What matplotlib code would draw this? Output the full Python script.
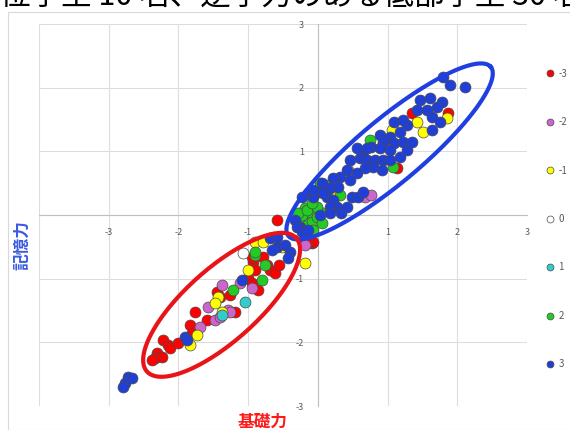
import matplotlib
matplotlib.use('Agg')
import matplotlib.pyplot as plt
from matplotlib.lines import Line2D
from matplotlib.patches import Rectangle
import numpy as np

plt.rcParams['font.family'] = ['Noto Sans CJK JP', 'DejaVu Sans']

# data (x = 基礎力, y = 記憶力), one pair of arrays per group
m3_x = [-2.22, -2.15, -2.30, -2.24, -2.34, -2.38, -2.12, -2.01, -1.84, -1.81, -1.76, -1.59, -1.45, -1.41,
        -1.00, -0.95, -0.93, -0.73, -0.69, -0.62, -0.86, -1.26, -1.19, -0.95, -0.79, -0.55, -0.19, -0.09,
        -0.59, -0.07, -0.14, 1.35, 1.87, 1.13, -0.90]
m3_y = [-1.96, -2.04, -2.17, -2.23, -2.24, -2.28, -2.09, -2.01, -1.73, -1.85, -1.52, -1.65, -1.21, -1.29,
        -0.99, -1.07, -0.74, -0.78, -0.86, -0.91, -1.18, -1.26, -1.52, -0.66, -0.66, -0.78, -0.39, -0.44,
        -0.08, -0.42, -0.44, 1.60, 1.60, 0.74, -0.86]

m2_x = [-1.38, -1.58, -1.69, -1.48, -1.41, -1.29, -0.95, -1.12, -1.26, 0.67, 0.77, -0.19]
m2_y = [-1.10, -1.44, -1.76, -1.65, -1.60, -1.49, -1.15, -1.07, -1.52, 0.28, 0.31, -0.47]

m1_x = [-0.90, -0.79, -1.00, -1.43, -1.48, -1.74, -1.84, -0.19, -0.01, 1.06, 1.42, 1.51, 1.85, 0.27,
        -0.52, -1.38]
m1_y = [-0.42, -0.42, -0.86, -1.29, -1.38, -1.88, -2.04, -0.75, 0.08, 1.33, 1.46, 1.30, 1.52, 0.31,
        -0.50, -1.52]

z0_x = [-1.08, 0.43, -0.14]
z0_y = [-0.60, 0.71, 0.17]

p1_x = [-1.05, -1.38, -0.26]
p1_y = [-1.37, -1.57, 0.03]

p2_x = [0.75, 1.08, 0.03, 0.14, -0.07, 0.03, -0.04, -0.11, -0.19, -0.14, -0.26, -0.09, -0.01, 0.06,
        -0.07, -0.22, -0.29, -0.16, -0.01, -0.09, -0.90, -1.22, -0.80, -0.76, -0.90, 0.32]
p2_y = [1.18, 0.75, 0.50, 0.47, 0.13, 0.05, -0.08, 0.03, 0.11, -0.13, -0.03, -0.11, -0.03, -0.13,
        -0.24, 0.00, 0.03, 0.08, 0.13, 0.19, -0.63, -1.18, -1.02, -0.78, -0.58, 0.31]

p3_x = [1.79, 1.89, 2.11, 1.46, 1.61, 1.78, 1.71, 1.56, 1.42, 1.64, 1.75, 1.64, 1.10, 1.28, 1.18, 1.03,
        0.89, 0.93, 1.10, 1.22, 1.28, 1.18, 1.03, 0.89, 0.77, 0.65, 0.60, 0.70, 0.82, 0.93, 1.03, 0.92,
        0.79, 0.67, 0.46, 0.42, 0.56, 0.46, 0.32, 0.22, 0.29, 0.17, 0.06, 0.00, -0.14, -0.22, -0.07,
        0.13, 0.22, 0.27, 0.34, 0.17, 0.49, 0.42, 0.57, 0.65, 0.17, -0.33, -0.26, 0.03, 0.70, 0.56,
        1.22, 1.35, -0.30, -0.23, -0.14, -0.07, 0.07, -0.69, -0.59, -0.47, -0.40, -0.65, -0.43, -0.59,
        -1.09, -1.91, -1.87, -2.73, -2.67, -2.77, -2.80]
p3_y = [2.17, 2.04, 2.01, 1.81, 1.84, 1.77, 1.70, 1.65, 1.65, 1.54, 1.46, 1.33, 1.46, 1.41, 1.30, 1.22,
        1.26, 1.15, 1.13, 1.15, 1.02, 0.91, 1.02, 1.05, 1.07, 0.99, 0.89, 0.86, 0.86, 0.86, 0.86, 0.71,
        0.75, 0.74, 0.86, 0.71, 0.66, 0.55, 0.60, 0.58, 0.44, 0.42, 0.50, 0.36, 0.35, 0.28, 0.28,
        0.28, 0.24, 0.13, 0.03, 0.13, 0.28, 0.13, 0.28, 0.36, 0.03, -0.08, -0.19, 0.00, 1.05, 1.05,
        1.49, 1.15, -0.19, -0.27, -0.24, 0.39, 0.35, -0.36, -0.50, -0.47, -0.58, -0.55, -0.68, -0.35,
        -1.02, -1.92, -1.96, -2.54, -2.56, -2.64, -2.70]

groups = ['-3', '-2', '-1', '0', '1', '2', '3']
xs = [m3_x, m2_x, m1_x, z0_x, p1_x, p2_x, p3_x]
ys = [m3_y, m2_y, m1_y, z0_y, p1_y, p2_y, p3_y]
colors = ['#ff0000', '#cc66cc', '#ffff00', '#ffffff', '#33cccc', '#22cc22', '#1f3fd6']

x_ticks = [-4, -3, -2, -1, 0, 1, 2, 3]
x_ticklabels = ['', '-3', '-2', '-1', '', '1', '2', '3']
y_ticks = [-3, -2, -1, 0, 1, 2, 3]
y_ticklabels = ['-3', '-2', '-1', '', '1', '2', '3']

fig = plt.figure(figsize=(5.7, 4.3), dpi=100)
ax = fig.add_axes([0.0684, 0.0558, 0.856, 0.888])

for gx, gy, c in zip(xs, ys, colors):
    ax.scatter(gx, gy, s=62, c=c, edgecolors='#4a4a4a', linewidths=0.5, zorder=3)

# the two hand-drawn ellipses
t = np.linspace(0, 2 * np.pi, 200)
for cx, cy, ux, uy, vx, vy, col in [(1.03, 1.00, 1.45, 1.33, 0.30, -0.38, '#1f3fe0'),
                                     (-1.38, -1.41, 1.07, 1.05, 0.35, -0.42, '#e81418')]:
    ax.plot(cx + ux * np.cos(t) + vx * np.sin(t), cy + uy * np.cos(t) + vy * np.sin(t),
            color=col, lw=3, zorder=4)

ax.set_xlim(-4, 3)
ax.set_ylim(-3, 3)
ax.set_xticks(x_ticks)
ax.set_xticklabels(x_ticklabels)
ax.set_yticks(y_ticks)
ax.set_yticklabels(y_ticklabels)
ax.grid(color='#dddddd', lw=0.8, zorder=0)
ax.set_axisbelow(True)
for s in ['top', 'right']:
    ax.spines[s].set_visible(False)
ax.spines['bottom'].set_position(('data', 0))
ax.spines['left'].set_position(('data', 0))
ax.spines['bottom'].set_color('#bfbfbf')
ax.spines['left'].set_color('#bfbfbf')
ax.tick_params(axis='x', length=0, pad=9, labelsize=6.5, labelcolor='#595959')
ax.tick_params(axis='y', length=0, pad=10, labelsize=6.5, labelcolor='#595959')

fig.text(22 / 570, 1 - 245 / 430, '記憶力', rotation=90, color='#3a5ae0', fontsize=12,
         fontweight='bold', ha='center', va='center')
fig.text(263 / 570, 1 - 422 / 430, '基礎力', color='#ff1a1a', fontsize=12,
         fontweight='bold', ha='center', va='center')

handles = [Line2D([], [], ls='', marker='o', ms=5, mfc=c, mec='#4a4a4a', mew=0.5) for c in colors]
fig.legend(handles, groups, loc='upper left', bbox_to_anchor=(541 / 570, 1 - 65 / 430),
           frameon=False, fontsize=7, labelcolor='#595959', handletextpad=0.4,
           labelspacing=3.95, handlelength=1.0, borderaxespad=0)

fig.patches.append(Rectangle((8 / 570, 0), 1, 1 - 12 / 430, transform=fig.transFigure,
                             fill=False, edgecolor='#d9d9d9', lw=0.8))

# caption from the page, cut off at the top edge as in the source
fig.text(0.0, 1 - 5 / 430, '位学生 10 名、逆学力のある低部学生 30 名', fontsize=22,
         color='black', ha='left', va='baseline')

fig.savefig('out.png', dpi=100)
